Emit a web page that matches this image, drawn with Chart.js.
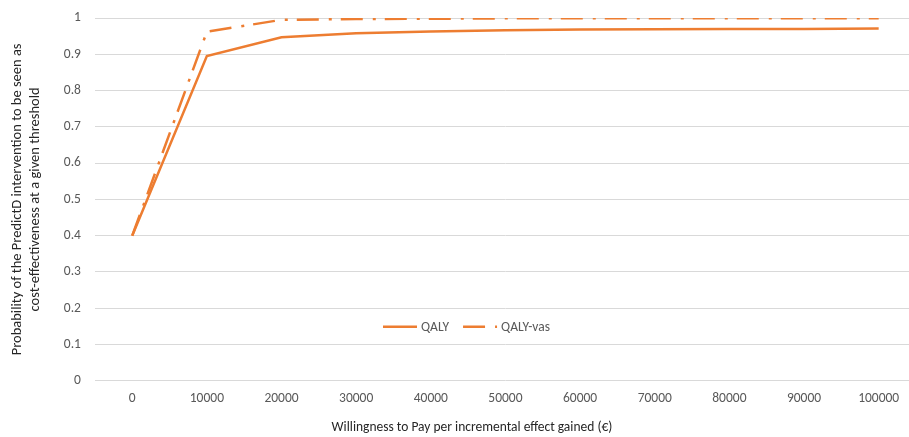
<!DOCTYPE html>
<html>
<head>
<meta charset="utf-8">
<script src="https://cdn.jsdelivr.net/npm/chart.js@4.4.1/dist/chart.umd.min.js"></script>
<style>
  html, body { margin: 0; padding: 0; background: #fff; overflow: hidden; }
  #wrap { width: 916px; height: 437px; }
</style>
</head>
<body>
<div id="wrap"><canvas id="c" width="916" height="437"></canvas></div>
<script>
// Willingness-to-pay thresholds (€) and acceptability probabilities
const thresholds = ['0', '10000', '20000', '30000', '40000', '50000', '60000', '70000', '80000', '90000', '100000'];
const qaly    = [0.40, 0.895, 0.947, 0.958, 0.963, 0.966, 0.968, 0.969, 0.970, 0.970, 0.971];
const qalyVas = [0.40, 0.962, 0.995, 0.997, 0.998, 0.999, 0.999, 0.999, 0.999, 0.999, 0.999];
const yTickLabels = ['0', '0.1', '0.2', '0.3', '0.4', '0.5', '0.6', '0.7', '0.8', '0.9', '1'];
const xTitle = 'Willingness to Pay per incremental effect gained (€)';
const yTitle = ['Probability of the PredictD intervention to be seen as', 'cost-effectiveness at a given threshold'];

const ORANGE = '#ED7D31';
const FONT = 'Carlito, Lato, sans-serif';
const FS = 13.5;

// Legend drawn inside the plot area, centred near the bottom,
// plus the x-axis title placed under the tick labels
const innerLegend = {
  id: 'innerLegend',
  afterDatasetsDraw(chart) {
    const ctx = chart.ctx;
    const area = chart.chartArea;
    const y = area.bottom - 54;
    const sample = 34, gapText = 4, gapItem = 14;
    ctx.save();
    ctx.font = FS + 'px ' + FONT;
    ctx.textBaseline = 'middle';
    let x = 383;
    chart.data.datasets.forEach(ds => {
      ctx.strokeStyle = ds.borderColor;
      ctx.lineWidth = ds.borderWidth;
      ctx.lineCap = 'butt';
      ctx.setLineDash(ds.borderDash || []);
      ctx.beginPath();
      ctx.moveTo(x, y);
      ctx.lineTo(x + sample, y);
      ctx.stroke();
      ctx.setLineDash([]);
      ctx.fillStyle = '#595959';
      ctx.fillText(ds.label, x + sample + gapText, y + 1);
      x += sample + gapText + ctx.measureText(ds.label).width + gapItem;
    });
    // x-axis title
    ctx.fillStyle = '#262626';
    ctx.textAlign = 'center';
    ctx.fillText(xTitle, 472, area.bottom + 47);
    ctx.restore();
  }
};

new Chart(document.getElementById('c'), {
  type: 'line',
  data: {
    labels: thresholds,
    datasets: [
      {
        label: 'QALY',
        data: qaly,
        borderColor: ORANGE,
        backgroundColor: ORANGE,
        borderWidth: 2.5,
        pointRadius: 0,
        tension: 0,
        fill: false
      },
      {
        label: 'QALY-vas',
        data: qalyVas,
        borderColor: ORANGE,
        backgroundColor: ORANGE,
        borderWidth: 2.5,
        borderDash: [22, 10, 3, 9],
        pointRadius: 0,
        tension: 0,
        fill: false
      }
    ]
  },
  options: {
    responsive: false,
    animation: false,
    layout: { padding: { top: 18, right: 0, bottom: 20, left: 9 } },
    plugins: {
      legend: { display: false },
      tooltip: { enabled: false }
    },
    scales: {
      x: {
        type: 'category',
        offset: true,
        grid: { display: false, drawTicks: false },
        border: { display: false },
        ticks: {
          color: '#595959',
          font: { family: FONT, size: FS },
          padding: 10,
          maxRotation: 0,
          autoSkip: false
        }
      },
      y: {
        min: 0,
        max: 1,
        ticks: {
          stepSize: 0.1,
          color: '#595959',
          font: { family: FONT, size: FS, lineHeight: 0.5 },
          padding: 14,
          callback: (v, i) => yTickLabels[i]
        },
        grid: { color: '#d9d9d9', lineWidth: 1, drawTicks: false },
        border: { display: false },
        title: {
          display: true,
          text: yTitle,
          color: '#262626',
          font: { family: FONT, size: 14.5 },
          padding: { top: 0, bottom: 6 }
        }
      }
    }
  },
  plugins: [innerLegend]
});
</script>
</body>
</html>
